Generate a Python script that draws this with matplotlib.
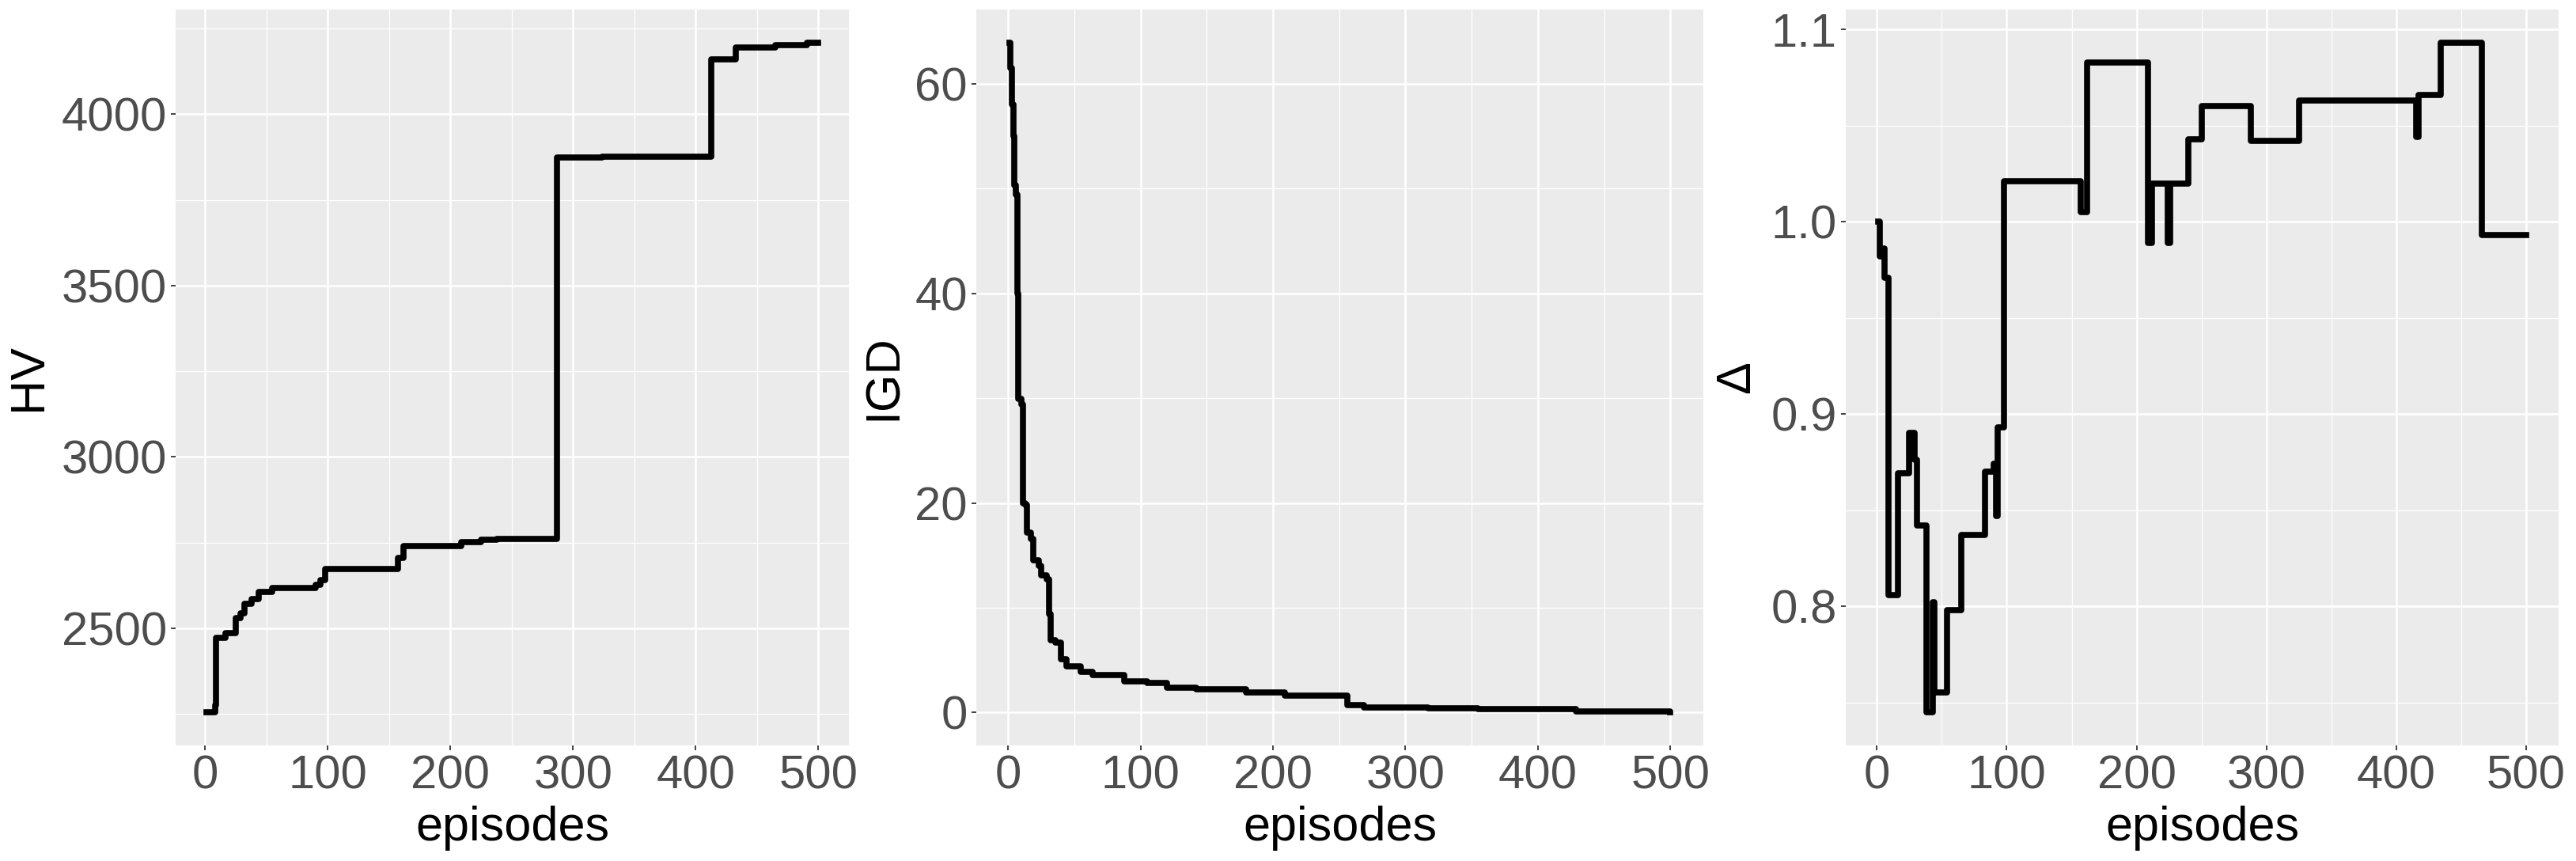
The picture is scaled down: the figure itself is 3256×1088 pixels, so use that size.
import matplotlib
matplotlib.use('Agg')
import matplotlib.pyplot as plt
from matplotlib.ticker import MultipleLocator

plt.rcParams['font.family'] = ['Liberation Sans', 'DejaVu Sans']

# change points (episode, value), held until the next one
hv_episodes = [1, 8, 9, 17, 25, 29, 32, 38, 44, 55, 90, 94, 98, 157, 162,
               209, 225, 238, 287, 324, 413, 433, 465, 491, 500]
hv_values = [2256, 2277, 2473, 2487, 2529, 2544, 2572, 2586, 2607, 2618, 2628,
             2642, 2674, 2705, 2740, 2751, 2758, 2762, 3875, 3877, 4161, 4194,
             4201, 4208, 4208]

igd_episodes = [1, 2, 3, 4, 5, 6, 7, 8, 10, 11, 13, 14, 17, 19, 23, 25, 29,
                31, 32, 36, 40, 44, 55, 64, 88, 105, 120, 142, 180, 209, 256,
                269, 317, 355, 429, 500]
igd_values = [63.9, 61.5, 58.0, 55.0, 50.3, 49.4, 40.0, 29.9, 29.4, 20.0, 19.8,
              17.2, 16.6, 14.5, 14.0, 13.1, 12.7, 9.4, 6.9, 6.7, 5.1, 4.4, 3.9,
              3.6, 3.0, 2.8, 2.4, 2.2, 1.9, 1.6, 0.73, 0.5, 0.4, 0.3, 0.1, 0.05]

delta_episodes = [1, 2, 5, 6, 9, 16, 25, 29, 31, 38, 43, 44, 54, 65, 83, 90,
                  92, 93, 98, 157, 162, 209, 212, 224, 226, 240, 250, 288, 325,
                  415, 417, 434, 466, 500]
delta_values = [1.000, 0.982, 0.986, 0.971, 0.806, 0.869, 0.890, 0.876, 0.842,
                0.745, 0.802, 0.755, 0.798, 0.837, 0.870, 0.874, 0.847, 0.893,
                1.021, 1.005, 1.083, 0.989, 1.020, 0.989, 1.020, 1.043, 1.060,
                1.042, 1.063, 1.044, 1.066, 1.093, 0.993, 0.993]

panels = [
    (hv_episodes, hv_values, 'HV', 500, 250, None),
    (igd_episodes, igd_values, 'IGD', 20, 10, None),
    (delta_episodes, delta_values, '\u0394', 0.1, 0.05, '{x:.1f}'),
]

W, H = 3256, 1088
boxes = [(222, 1073), (1234, 2153), (2333, 3234)]
label_x = [37, 1117, 2196]
top, bottom = 12, 942

fig = plt.figure(figsize=(W / 100, H / 100), dpi=100)

for (ep, val, name, major, minor, fmt), (x0, x1), lx in zip(panels, boxes, label_x):
    ax = fig.add_axes([x0 / W, 1 - bottom / H, (x1 - x0) / W, (bottom - top) / H])
    ax.set_facecolor('#EBEBEB')
    ax.step(ep, val, where='post', color='black', linewidth=5.5, zorder=3)
    ax.margins(x=0.05, y=0.05)

    ax.xaxis.set_major_locator(MultipleLocator(100))
    ax.xaxis.set_minor_locator(MultipleLocator(50))
    ax.yaxis.set_major_locator(MultipleLocator(major))
    ax.yaxis.set_minor_locator(MultipleLocator(minor))
    if fmt:
        ax.yaxis.set_major_formatter(fmt)

    ax.grid(which='major', color='white', linewidth=1.8)
    ax.grid(which='minor', color='white', linewidth=0.9)
    ax.set_axisbelow(True)
    for s in ax.spines.values():
        s.set_visible(False)

    ax.tick_params(which='major', length=4, width=1.3, color='#333333',
                   labelsize=43, labelcolor='#4D4D4D', pad=4)
    ax.tick_params(which='minor', length=0)

    ax.set_xlabel('episodes', fontsize=44)
    ax.xaxis.set_label_coords(0.5, (bottom - 1062) / (bottom - top))
    ax.xaxis.label.set_va('baseline')
    ax.set_ylabel(name, fontsize=44)
    ax.yaxis.set_label_coords((lx - x0) / (x1 - x0), 0.5)
    ax.yaxis.label.set_va('center')

plt.savefig('out.png', dpi=100)
